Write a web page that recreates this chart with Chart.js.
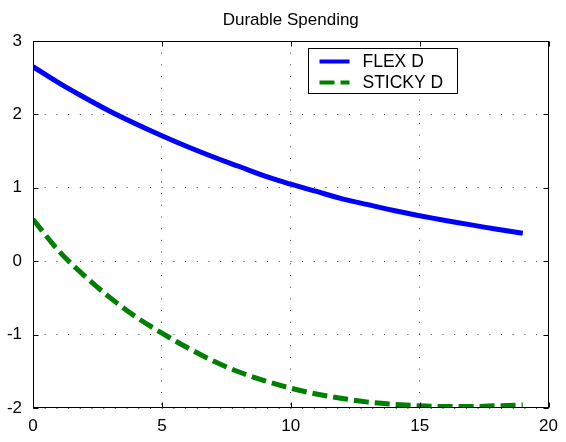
<!DOCTYPE html>
<html>
<head>
<meta charset="utf-8">
<title>Durable Spending</title>
<script src="https://cdn.jsdelivr.net/npm/chart.js@4.4.1/dist/chart.umd.min.js"></script>
<style>
  html, body { margin: 0; padding: 0; background: #fff; }
  #durableChart { display: block; }
</style>
</head>
<body>
<canvas id="durableChart" width="566" height="442"></canvas>
<script>
// data
const periods = [0, 1, 2, 3, 4, 5, 6, 7, 8, 9, 10, 11, 12, 13, 14, 15, 16, 17, 18, 19];
const flexD = [2.65, 2.43, 2.23, 2.04, 1.87, 1.71, 1.56, 1.42, 1.29, 1.16, 1.05, 0.95, 0.85, 0.77, 0.69, 0.62, 0.555, 0.495, 0.435, 0.38];
const stickyD = [0.57, 0.14, -0.20, -0.50, -0.76, -0.98, -1.18, -1.36, -1.51, -1.63, -1.73, -1.81, -1.87, -1.92, -1.95, -1.97, -1.98, -1.98, -1.97, -1.96];
const xTicks = [0, 5, 10, 15, 20];
const yTicks = [-2, -1, 0, 1, 2, 3];

const FONT = 'Liberation Sans, Arial, Helvetica, sans-serif';
Chart.defaults.font.family = FONT;
Chart.defaults.color = '#000';

const toPoints = (ys) => periods.map((p, i) => ({ x: p, y: ys[i] }));

// matlab style box, inward ticks and the legend inside the axes
const matlabBox = {
    id: 'matlabBox',
    afterDatasetsDraw(chart) {
        const { ctx, chartArea: a, scales } = chart;
        const L = Math.round(a.left) + 0.5, R = Math.round(a.right) - 0.5;
        const T = Math.round(a.top) + 0.5, B = Math.round(a.bottom) - 0.5;
        ctx.save();
        ctx.strokeStyle = '#000';
        ctx.lineWidth = 1;
        ctx.setLineDash([]);
        ctx.strokeRect(L, T, R - L, B - T);

        const tl = 5;
        ctx.beginPath();
        xTicks.forEach(v => {
            const px = Math.round(scales.x.getPixelForValue(v)) + 0.5;
            ctx.moveTo(px, B); ctx.lineTo(px, B - tl);
            ctx.moveTo(px, T); ctx.lineTo(px, T + tl);
        });
        yTicks.forEach(v => {
            const py = Math.round(scales.y.getPixelForValue(v)) + 0.5;
            ctx.moveTo(L, py); ctx.lineTo(L + tl, py);
            ctx.moveTo(R, py); ctx.lineTo(R - tl, py);
        });
        ctx.stroke();

        // legend
        const bx = Math.round(a.right) - 241 + 0.5, by = Math.round(a.top) + 7 + 0.5;
        const bw = 149, bh = 45;
        ctx.fillStyle = '#fff';
        ctx.fillRect(bx, by, bw, bh);
        ctx.strokeRect(bx, by, bw, bh);
        ctx.font = '17.5px ' + FONT;
        ctx.textBaseline = 'middle';
        ctx.textAlign = 'left';
        chart.data.datasets.forEach((ds, i) => {
            const y = by + 13 + i * 21;
            ctx.strokeStyle = ds.borderColor;
            ctx.lineWidth = 4;
            ctx.setLineDash(ds.borderDash || []);
            ctx.beginPath();
            ctx.moveTo(bx + 11, y);
            ctx.lineTo(bx + 41, y);
            ctx.stroke();
            ctx.fillStyle = '#000';
            ctx.fillText(ds.label, bx + 54, y + 1);
        });
        ctx.restore();
    }
};

const ctx = document.getElementById('durableChart').getContext('2d');
new Chart(ctx, {
    type: 'line',
    data: {
        datasets: [{
            label: 'FLEX D',
            data: toPoints(flexD),
            borderColor: '#0000ff',
            borderWidth: 5,
            pointRadius: 0,
            fill: false,
            tension: 0.4
        }, {
            label: 'STICKY D',
            data: toPoints(stickyD),
            borderColor: '#008000',
            borderWidth: 5,
            borderDash: [15, 6],
            borderCapStyle: 'butt',
            pointRadius: 0,
            fill: false,
            cubicInterpolationMode: 'monotone'
        }]
    },
    options: {
        responsive: false,
        devicePixelRatio: 1,
        animation: false,
        layout: { padding: { left: 0, right: 12, top: 0, bottom: 0 } },
        plugins: {
            legend: { display: false },
            tooltip: { enabled: false },
            title: {
                display: true,
                fullSize: false,
                text: 'Durable Spending',
                color: '#000',
                font: { size: 17, weight: 'normal' },
                padding: { top: 9.8, bottom: 10.8 }
            }
        },
        scales: {
            x: {
                type: 'linear',
                min: 0,
                max: 20,
                afterBuildTicks: s => { s.ticks = xTicks.map(v => ({ value: v })); },
                afterFit: s => { s.height = 34; },
                grid: { color: '#444', lineWidth: 1, drawTicks: false },
                border: { display: false, dash: [1, 10.7] },
                ticks: { font: { size: 17 }, padding: 8, maxRotation: 0, color: '#000' }
            },
            y: {
                type: 'linear',
                min: -2,
                max: 3,
                afterBuildTicks: s => { s.ticks = yTicks.map(v => ({ value: v })); },
                afterFit: s => { s.width = 33; },
                grid: { color: '#444', lineWidth: 1, drawTicks: false },
                border: { display: false, dash: [1, 10.7] },
                ticks: { font: { size: 17 }, padding: 11, color: '#000' }
            }
        }
    },
    plugins: [matlabBox]
});
</script>
</body>
</html>
